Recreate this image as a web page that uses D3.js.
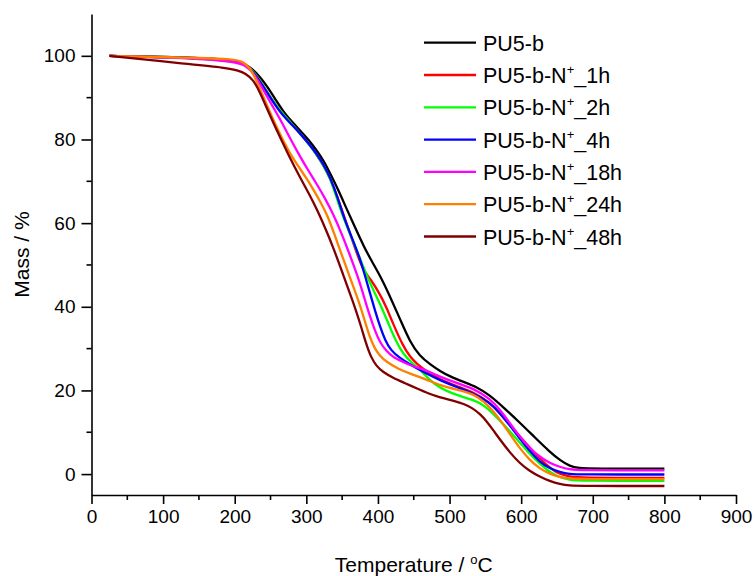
<!DOCTYPE html>
<html>
<head>
<meta charset="utf-8">
<script src="https://cdn.jsdelivr.net/npm/d3@7"></script>
<style>
  body { margin: 0; background: #fff; }
  svg text { font-family: Arial, "Liberation Sans", sans-serif; fill: #000; }
</style>
</head>
<body>
<div id="chart"></div>
<script>
// Series names and colours (legend order)
const seriesNames = ["PU5-b", "PU5-b-N+_1h", "PU5-b-N+_2h", "PU5-b-N+_4h",
  "PU5-b-N+_18h", "PU5-b-N+_24h", "PU5-b-N+_48h"];
const seriesColors = ["#000000", "#ff0000", "#00ff00", "#0000ff",
  "#ff00ff", "#ff8000", "#800000"];

// [temperature °C, mass %]
const pu5b = [[25,100],[100,99.7],[150,99.4],[200,98.8],[215,98],[225,96.8],[235,95],[245,92.8],[258,89.3],[268,86.6],[280,84.2],[291,82.2],[303,80],[314,77.5],[324,75],[333,72],[345,67.8],[356,63.5],[368,59],[380,54.5],[391,51],[405,46.8],[417,42.4],[431,37],[445,31.5],[458,28.3],[473,26.2],[487,24.6],[500,23.4],[520,22],[538,20.8],[555,19],[575,16],[600,12],[620,8.6],[640,5.3],[655,3.2],[668,1.9],[680,1.4],[700,1.3],[800,1.3]];
const n1h = [[25,100],[100,99.7],[150,99.5],[200,98.9],[215,98],[228,96],[240,92.8],[252,89.5],[263,87],[277,84.2],[291,81.5],[303,79],[314,76.5],[324,73.8],[333,70.8],[343,66.5],[352,62],[362,57],[372,52],[380,48.6],[389,46.8],[403,43],[412,39.8],[421,36],[435,30.6],[445,28],[454,26.4],[470,24.3],[487,22.6],[510,21],[533,19.6],[556,17.2],[570,14.6],[580,12.5],[603,8.1],[626,3.6],[642,1.2],[654,0],[668,-0.6],[680,-0.9],[800,-0.9]];
const n2h = [[25,100],[100,99.7],[150,99.5],[200,98.9],[215,98],[228,96],[240,92.8],[252,89.5],[263,87],[277,84.2],[291,81.5],[303,79],[314,76.5],[324,73.8],[333,70.8],[341,66.8],[349,62.5],[362,57],[375,51.5],[389,45.5],[403,40.8],[417,35],[426,31.5],[435,28.8],[447,26.6],[459,25],[472,22.5],[487,20.5],[505,19.2],[519,18.4],[535,17.6],[547,16.6],[565,13.8],[580,11],[600,7.2],[613,4.6],[626,2.5],[640,0.4],[654,-0.8],[668,-1.4],[680,-1.6],[800,-1.6]];
const n4h = [[25,100],[100,99.7],[150,99.5],[200,98.9],[215,98],[228,95.8],[240,92.6],[252,89.4],[263,86.6],[277,84],[291,81.5],[303,79.1],[314,76.7],[324,74],[333,71.1],[343,66.5],[352,61.5],[363,56.8],[374,52],[382,47.4],[389,43.2],[396,39],[403,35.2],[410,32],[418,29.6],[430,27.8],[445,26.2],[468,24],[487,22.4],[510,20.8],[533,19.3],[556,17.2],[571,14.5],[585,11.5],[598,8.5],[612,5.5],[626,2.9],[640,1.3],[654,0.5],[668,0],[680,-0.1],[800,-0.1]];
const n18h = [[25,100],[100,99.6],[150,99.3],[200,98.6],[215,97.8],[228,95.6],[240,91.8],[252,88.2],[263,85],[277,80.4],[291,76],[303,72.5],[314,69.5],[326,66],[338,62],[350,57.2],[361,52.3],[368,49],[375,45.6],[382,41.5],[389,37.6],[396,34.2],[403,31.4],[412,29.4],[421,28],[433,27],[445,26],[468,24.8],[487,23.2],[510,21.8],[533,20.5],[556,18.1],[571,15.3],[585,12],[598,8.9],[612,6.2],[626,4.1],[640,2.6],[654,1.7],[668,1.1],[680,0.9],[800,0.9]];
const n24h = [[25,100],[100,99.7],[150,99.5],[198,99.2],[212,98.6],[222,97],[230,94.2],[245,88.2],[255,84.2],[266,80.3],[276,77],[287,74],[300,70.8],[310,68],[320,65],[329,62],[339,57.5],[349,52.6],[362,46.5],[375,40.5],[383,35.8],[389,32.6],[395,30.2],[402,28.4],[412,26.8],[428,25.2],[445,24],[468,22.6],[487,21.2],[510,20.2],[533,19.2],[548,17.4],[560,15.2],[571,12.9],[589,8.4],[598,6.2],[612,3.3],[626,1.3],[640,0],[654,-0.7],[668,-1.1],[680,-1.2],[800,-1.2]];
const n48h = [[25,100],[125,98.2],[190,97.1],[205,96.5],[215,95.8],[226,94.3],[236,91],[246,87],[256,83.2],[266,79.6],[277,75.6],[291,71],[305,66.6],[315,63.2],[327,58.6],[338,54],[352,47.4],[366,40.8],[376,35.6],[383,31.4],[390,28],[398,25.8],[407,24.4],[421,23],[437,21.8],[454,20.5],[470,19.3],[487,18.3],[505,17.6],[520,16.8],[532,15.8],[543,14.3],[552,12.6],[561,10.5],[571,8.1],[584,5.2],[598,2.6],[612,0.7],[626,-0.6],[640,-1.7],[654,-2.4],[668,-2.75],[682,-2.85],[800,-2.85]];

const seriesData = [pu5b, n1h, n2h, n4h, n18h, n24h, n48h];

// Axis ticks
const xTicks = [0, 100, 200, 300, 400, 500, 600, 700, 800, 900];
const xMinor = [50, 150, 250, 350, 450, 550, 650, 750, 850];
const yTicks = [0, 20, 40, 60, 80, 100];
const yMinor = [10, 30, 50, 70, 90];

const width = 755, height = 576;
const margin = { top: 14, right: 19, bottom: 81, left: 91.5 };

const x = d3.scaleLinear().domain([0, 900]).range([margin.left, width - margin.right]);
const y = d3.scaleLinear().domain([-5, 110]).range([height - margin.bottom, margin.top]);

const svg = d3.select("#chart").append("svg")
  .attr("width", width)
  .attr("height", height);

// x axis
const xAxis = svg.append("g")
  .attr("transform", `translate(0,${y(-5)})`)
  .call(d3.axisBottom(x).tickValues(xTicks).tickSize(9).tickSizeOuter(0).tickPadding(6));
xAxis.selectAll(".tick text").attr("font-size", 19);
xAxis.append("g").selectAll("line").data(xMinor).join("line")
  .attr("x1", (d) => x(d)).attr("x2", (d) => x(d))
  .attr("y1", 0).attr("y2", 5)
  .attr("stroke", "#000");

// y axis
const yAxis = svg.append("g")
  .attr("transform", `translate(${x(0)},0)`)
  .call(d3.axisLeft(y).tickValues(yTicks).tickSize(10).tickSizeOuter(0).tickPadding(6));
yAxis.selectAll(".tick text").attr("font-size", 19);
yAxis.append("g").selectAll("line").data(yMinor).join("line")
  .attr("y1", (d) => y(d)).attr("y2", (d) => y(d))
  .attr("x1", 0).attr("x2", -5)
  .attr("stroke", "#000");

svg.selectAll(".domain, .tick line").attr("stroke-width", 1.6);
svg.selectAll("g line").attr("stroke-width", 1.6);

// axis titles
const xTitle = svg.append("text")
  .attr("x", (x(0) + x(900)) / 2)
  .attr("y", 572)
  .attr("text-anchor", "middle")
  .attr("font-size", 21);
xTitle.append("tspan").text("Temperature / ");
xTitle.append("tspan").attr("font-size", 13).attr("dy", -8).text("o");
xTitle.append("tspan").attr("dy", 8).text("C");

svg.append("text")
  .attr("transform", `translate(29,${(y(-5) + y(110)) / 2}) rotate(-90)`)
  .attr("text-anchor", "middle")
  .attr("font-size", 21)
  .text("Mass / %");

// curves, smoothed like the instrument export
const line = d3.line()
  .x((d) => x(d[0]))
  .y((d) => y(d[1]))
  .curve(d3.curveBasis);

seriesData.forEach((s, i) => {
  svg.append("path")
    .datum(s)
    .attr("fill", "none")
    .attr("stroke", seriesColors[i])
    .attr("stroke-width", 2.3)
    .attr("stroke-linejoin", "round")
    .attr("d", line);
});

// legend
const legend = svg.append("g");
seriesNames.forEach((name, i) => {
  const ly = 42.7 + i * 32.3;
  legend.append("line")
    .attr("x1", 424).attr("x2", 476)
    .attr("y1", ly).attr("y2", ly)
    .attr("stroke", seriesColors[i])
    .attr("stroke-width", 2.3);
  const t = legend.append("text")
    .attr("x", 483)
    .attr("y", ly + 8)
    .attr("font-size", 21.5);
  if (name.includes("+")) {
    const [a, b] = name.split("+");
    t.append("tspan").text(a);
    t.append("tspan").attr("font-size", 13).attr("dy", -9).text("+");
    t.append("tspan").attr("dy", 9).text(b);
  } else {
    t.text(name);
  }
});
</script>
</body>
</html>
